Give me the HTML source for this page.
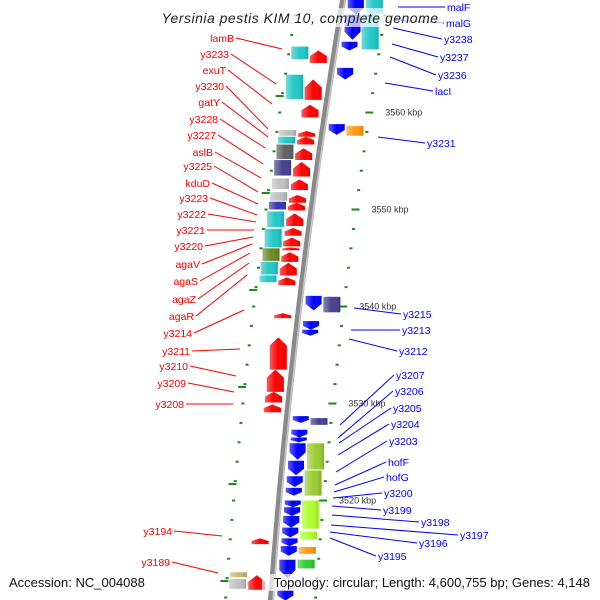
<!DOCTYPE html>
<html><head><meta charset="utf-8"><style>
html,body{margin:0;padding:0;background:#fff;}
svg{display:block;font-family:"Liberation Sans",sans-serif;}
</style></head><body>
<svg id="c" width="600" height="600" viewBox="0 0 600 600"></svg>
<script>
// ---- data (positions in kbp) ----
const tickLabels = [3560, 3550, 3540, 3530, 3520];
const fwdArrowTop = [3566.4,3563.4,3560.8,3558.1,3557.5,3556.3,3554.9,3553.1,3551.5,3550.7,3549.6,3548.1,3547.1,3546.1,3545.6,3544.5,3543.0,3539.3,3536.8,3533.5,3531.2,3529.9,3516.1,3512.3];
const fwdArrowBot = [3565.1,3561.3,3559.5,3557.5,3556.7,3555.1,3553.4,3552.0,3550.7,3549.9,3548.3,3547.3,3546.2,3545.8,3544.6,3543.2,3542.2,3538.8,3533.5,3531.2,3530.1,3529.1,3515.5,3510.8];
const fwdBoxTop = [3566.8,3563.9,3558.2,3557.5,3556.7,3555.1,3553.2,3551.8,3550.8,3549.8,3548.0,3546.0,3544.6,3543.2,3512.6,3511.9];
const fwdBoxBot = [3565.4,3561.3,3557.5,3556.7,3555.1,3553.4,3552.0,3550.8,3549.9,3548.1,3546.0,3544.6,3543.2,3542.4,3512.0,3510.8];
const fwdBoxColor = ["#22c8c8","#22c8c8","#c0c0c0","#22c8c8","#606060","#46408e","#c0c0c0","#c0c0c0","#3535b0","#22c8c8","#22c8c8","#6b8a23","#22c8c8","#22c8c8","#c8b870","#c0c0c0"];
const revArrowTop = [3571.6,3570.1,3567.3,3564.6,3558.8,3541.1,3538.5,3537.6,3528.7,3527.3,3526.5,3525.9,3524.1,3522.5,3521.3,3520.0,3519.3,3518.4,3517.2,3516.1,3515.3,3513.9,3510.8];
const revArrowBot = [3570.1,3567.5,3566.4,3563.4,3557.7,3539.6,3537.6,3537.0,3528.0,3526.5,3526.0,3524.2,3522.6,3521.4,3520.5,3519.3,3518.4,3517.2,3516.2,3515.3,3514.3,3512.0,3509.7];
const revBoxTop = [3571.6,3570.1,3558.6,3541.0,3528.5,3525.9,3523.1,3520.0,3516.8,3515.2,3513.9];
const revBoxBot = [3570.1,3566.4,3557.5,3539.3,3527.7,3523.1,3520.4,3517.0,3515.9,3514.4,3512.9];
const revBoxColor = ["#22c8c8","#22c8c8","#ff9a10","#46408e","#46408e","#9acd32","#9acd32","#adff2f","#adff2f","#ff9a10","#32cd32"];
const leftLabels = ["lamB","y3233","exuT","y3230","gatY","y3228","y3227","aslB","y3225","kduD","y3223","y3222","y3221","y3220","agaV","agaS","agaZ","agaR","y3214","y3211","y3210","y3209","y3208","y3194","y3189"];
const leftLabelPos = [[234,42],[229,58],[226,74],[224,90],[220,106],[218,123],[216,139],[213,156],[212,170],[210,187],[208,202],[206,218],[205,234],[203,250],[200,268],[198,285],[196,303],[194,320],[192,337],[190,355],[188,370],[186,387],[184,408],[172,535],[170,566]];
const leftTargets = [[282,49],[276,84],[272,104],[268,129],[268,137],[265,148],[263,164],[261,178],[258,192],[258,204],[257,215],[256,222],[254,230],[253,237],[252,244],[250,253],[249,263],[247,275],[244,310],[240,349],[236,376],[234,392],[233,404],[222,536],[218,573]];
const rightLabels = ["malF","malG","y3238","y3237","y3236","lacI","y3231","y3215","y3213","y3212","y3207","y3206","y3205","y3204","y3203","hofF","hofG","y3200","y3199","y3198","y3197","y3196","y3195"];
const rightLabelPos = [[447,11],[446,27],[444,43],[440,61],[438,79],[435,95],[427,147],[403,318],[402,334],[399,355],[396,379],[395,395],[393,412],[391,428],[389,445],[388,466],[386,481],[384,497],[383,514],[421,526],[460,539],[419,547],[378,560]];
const rightTargets = [[398,7],[395,20],[393,28],[392,44],[390,57],[385,83],[378,137],[354,308],[351,330],[349,339],[340,425],[338,438],[339,443],[338,455],[336,472],[335,485],[334,492],[333,498],[332,506],[332,515],[331,525],[330,532],[330,538]];

// ---- scales ----
const Y = k => (3571.6 - k) * 9.7;
const BX = y => 343 - 0.1667*y + 0.0000778*y*y;
const svg = document.getElementById('c');
const NS = 'http://www.w3.org/2000/svg';
function mk(tag, attrs, parent){const e=document.createElementNS(NS,tag);for(const k in attrs)e.setAttribute(k,attrs[k]);(parent||svg).appendChild(e);return e;}

const defs = mk('defs',{});
const g1 = mk('linearGradient',{id:'shine',x1:'0',x2:'1',y1:'0',y2:'0'},defs);
mk('stop',{offset:'0','stop-color':'#fff','stop-opacity':'0.35'},g1);
mk('stop',{offset:'0.5','stop-color':'#fff','stop-opacity':'0'},g1);
mk('stop',{offset:'1','stop-color':'#000','stop-opacity':'0.15'},g1);

let d='';
for(let y=-5;y<=605;y+=5){d+=(y===-5?'M':'L')+BX(y).toFixed(1)+' '+y+' ';}
const bb = mk('path',{d:d,stroke:'#8a8a8a','stroke-width':'6',fill:'none'});


mk('path',{d:d,stroke:'#c8c8c8','stroke-width':'1.5',fill:'none',transform:'translate(2,0)'});

for(let k=3510;k<=3571;k+=2){
  const y=Y(k);
  const l=mk('rect',{x:BX(y)-47,y:y-1,width:3,height:2,fill:'#1a8a1a'});
  
  
  const r=mk('rect',{x:BX(y)+43,y:y-1,width:3,height:2,fill:'#1a8a1a'});
  
  
}
for(let k=3511.7;k<=3571;k+=10){
  const y=Y(k);
  mk('rect',{x:BX(y)-52,y:y-1,width:8,height:2,fill:'#1a8a1a'});
}
tickLabels.forEach(k=>{
  const y=Y(k);
  mk('rect',{x:BX(y)+40,y:y-1,width:8,height:2,fill:'#1a8a1a'});
  const t=mk('text',{x:BX(y)+60,y:y+3,'font-size':'9',fill:'#333'});
  t.textContent=k+' kbp';
  
  
});

function upArrow(top,bot,x0,x1,color){
  const h=bot-top, tip=Math.min(h*0.45,8);
  const p=`${x0},${bot} ${x0},${top+tip} ${(x0+x1)/2},${top} ${x1},${top+tip} ${x1},${bot}`;
  const e=mk('polygon',{points:p,fill:color});
  mk('polygon',{points:p,fill:'url(#shine)'});
  return e;
}
function downArrow(top,bot,x0,x1,color){
  const h=bot-top, tip=Math.min(h*0.45,8);
  const p=`${x0},${top} ${x1},${top} ${x1},${bot-tip} ${(x0+x1)/2},${bot} ${x0},${bot-tip}`;
  const e=mk('polygon',{points:p,fill:color});
  mk('polygon',{points:p,fill:'url(#shine)'});
  return e;
}
function box(top,bot,x0,x1,color){
  const e=mk('rect',{x:x0,y:top,width:x1-x0,height:Math.max(bot-top-1,1),fill:color});
  mk('rect',{x:x0,y:top,width:x1-x0,height:Math.max(bot-top-1,1),fill:'url(#shine)'});
  return e;
}
fwdArrowTop.forEach((k,i)=>{
  const t=Y(k),b=Y(fwdArrowBot[i]),bx=BX((t+b)/2);
  const e=upArrow(t,b,bx-24,bx-7,'#ff0000');
  
  
});
fwdBoxTop.forEach((k,i)=>{
  const t=Y(k),b=Y(fwdBoxBot[i]),bx=BX((t+b)/2);
  const e=box(t,b,bx-43,bx-26,fwdBoxColor[i]);
  
  
});
revArrowTop.forEach((k,i)=>{
  const t=Y(k),b=Y(revArrowBot[i]),bx=BX((t+b)/2);
  const e=downArrow(t,b,bx+6,bx+22,'#0000ff');
  
  
});
revBoxTop.forEach((k,i)=>{
  const t=Y(k),b=Y(revBoxBot[i]),bx=BX((t+b)/2);
  const e=box(t,b,bx+24,bx+41,revBoxColor[i]);
  
  
});

leftLabels.forEach((s,i)=>{
  const [x,y]=leftLabelPos[i],[tx,ty]=leftTargets[i];
  mk('line',{x1:x+2,y1:y-4,x2:tx,y2:ty,stroke:'#ff0000','stroke-width':'1'});
  const t=mk('text',{x:x,y:y,'font-size':'10.5','text-anchor':'end',fill:'#ff0000'});
  t.textContent=s;
  
  
});
rightLabels.forEach((s,i)=>{
  const [x,y]=rightLabelPos[i],[tx,ty]=rightTargets[i];
  mk('line',{x1:x-2,y1:y-4,x2:tx,y2:ty,stroke:'#0000ff','stroke-width':'1'});
  const t=mk('text',{x:x,y:y,'font-size':'10.5',fill:'#0000ff'});
  t.textContent=s;
  
  
});

mk('rect',{x:158,y:8,width:285,height:19,fill:'#fff','fill-opacity':'0.7'});
const ti=mk('text',{x:300,y:23,'font-size':'14','font-style':'italic','text-anchor':'middle',fill:'#222','letter-spacing':'0.5'});
ti.textContent='Yersinia pestis KIM 10, complete genome';


const ac=mk('text',{x:9,y:587,'font-size':'13',fill:'#111'});
ac.textContent='Accession: NC_004088';


mk('rect',{x:262,y:574,width:330,height:17,fill:'#fff','fill-opacity':'0.7'});
const tp=mk('text',{x:590,y:587,'font-size':'13','text-anchor':'end',fill:'#111'});
tp.textContent='Topology: circular; Length: 4,600,755 bp; Genes: 4,148';


</script>
</body></html>
